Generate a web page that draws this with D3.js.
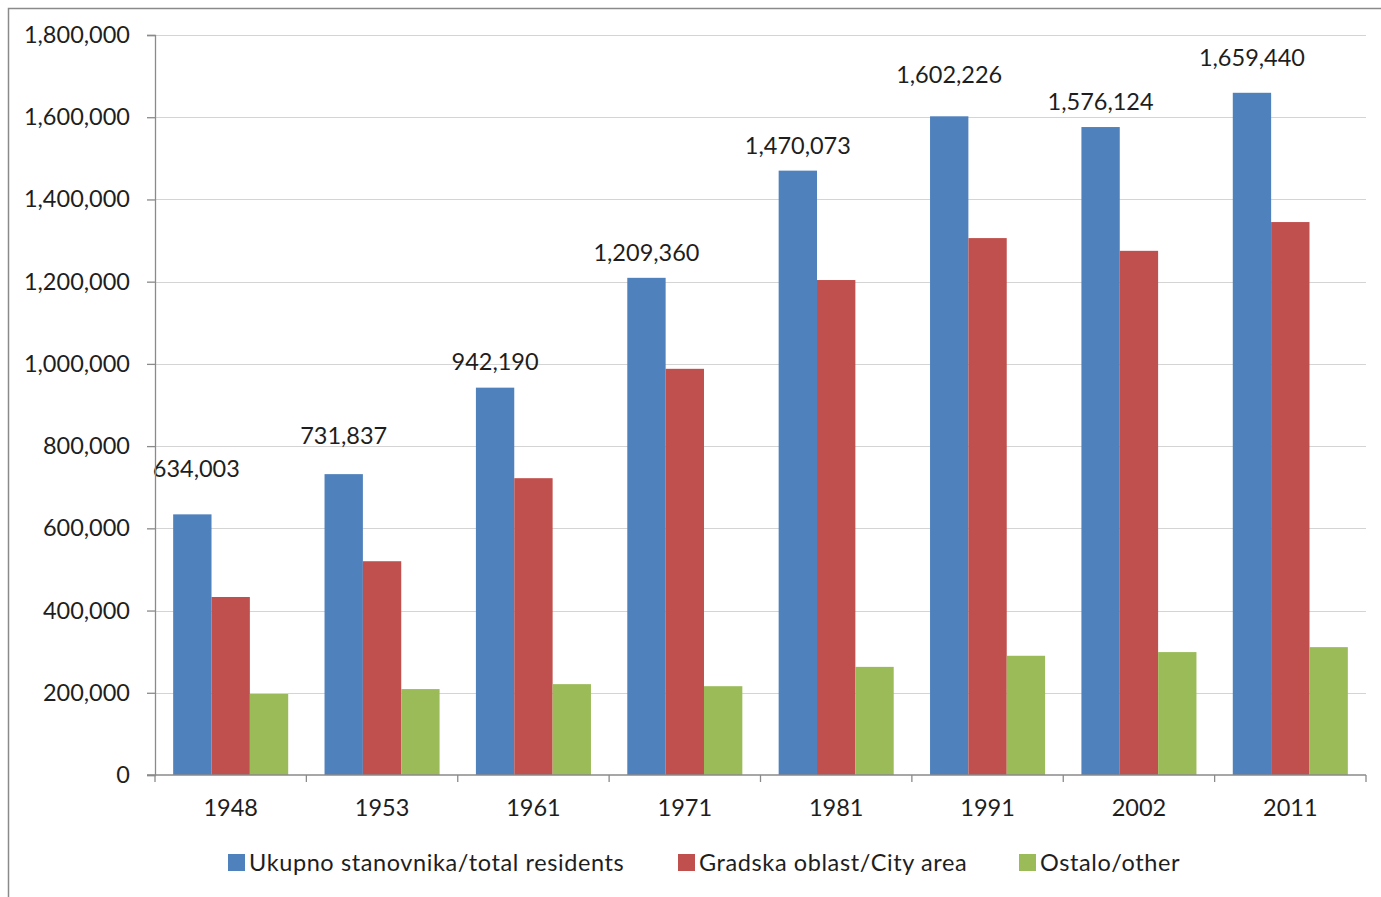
<!DOCTYPE html>
<html>
<head>
<meta charset="utf-8">
<script src="https://cdn.jsdelivr.net/npm/d3@7"></script>
<style>
  html, body { margin: 0; padding: 0; background: #fff; }
  svg { display: block; }
  text { font-family: Lato, "Open Sans", sans-serif; fill: #1e1e1e; }
</style>
</head>
<body>
<svg id="chart" width="1381" height="897"></svg>
<script>
// Census years and population series (Belgrade)
const years = ["1948", "1953", "1961", "1971", "1981", "1991", "2002", "2011"];
const totalResidents = [634003, 731837, 942190, 1209360, 1470073, 1602226, 1576124, 1659440];
const cityArea = [433000, 520000, 722000, 988000, 1204000, 1306000, 1275000, 1345000];
const otherArea = [197000, 209000, 221000, 216000, 263000, 290000, 299000, 311000];
const seriesNames = ["Ukupno stanovnika/total residents", "Gradska oblast/City area", "Ostalo/other"];
const yTicks = [0, 200000, 400000, 600000, 800000, 1000000, 1200000, 1400000, 1600000, 1800000];

// label placement tweaks (pixels above the bar top, horizontal shift)
const labelLift = [37, 30, 18, 17, 17, 33, 17, 27];
const labelShift = [4, 0, 0, 0, 0, 0, 0, 0];

const colors = ["#4F81BD", "#C0504D", "#9BBB59"];
const series = [totalResidents, cityArea, otherArea];
const fontSize = 23.5;

const svg = d3.select("#chart");
const plotLeft = 155, plotRight = 1366, plotTop = 35, plotBottom = 775;

// outer frame
svg.append("path")
  .attr("d", `M8.5,897 V8.5 H1381`)
  .attr("fill", "none").attr("stroke", "#8a8a8a").attr("stroke-width", 1.5);

const x0 = d3.scaleBand().domain(years).range([plotLeft, plotRight]).paddingInner(0.24).paddingOuter(0.12);
const x1 = d3.scaleBand().domain(d3.range(series.length)).range([0, x0.bandwidth()]);
const y = d3.scaleLinear().domain([0, 1800000]).range([plotBottom, plotTop]);

// horizontal gridlines
svg.append("g").selectAll("line").data(yTicks.slice(1)).join("line")
  .attr("x1", plotLeft).attr("x2", plotRight)
  .attr("y1", d => Math.round(y(d)) + 0.5).attr("y2", d => Math.round(y(d)) + 0.5)
  .attr("stroke", "#d4d4d4").attr("stroke-width", 1.2);

// bars
const groups = svg.append("g").selectAll("g").data(years).join("g")
  .attr("transform", d => `translate(${x0(d)},0)`);
groups.selectAll("rect")
  .data((d, i) => series.map((s, k) => ({ k, v: s[i] })))
  .join("rect")
  .attr("x", d => x1(d.k))
  .attr("width", x1.bandwidth())
  .attr("y", d => y(d.v))
  .attr("height", d => y(0) - y(d.v))
  .attr("fill", d => colors[d.k]);

// value labels over total bars
svg.append("g").selectAll("text").data(years).join("text")
  .attr("x", (d, i) => x0(d) + x1(0) + x1.bandwidth() / 2 + labelShift[i])
  .attr("y", (d, i) => y(totalResidents[i]) - labelLift[i])
  .attr("text-anchor", "middle")
  .attr("font-size", fontSize)
  .text((d, i) => d3.format(",")(totalResidents[i]));

// y axis
const yAxis = d3.axisLeft(y).tickValues(yTicks).tickFormat(d3.format(",")).tickSize(8).tickPadding(17);
const gy = svg.append("g").attr("transform", `translate(${plotLeft},0)`).call(yAxis);
gy.selectAll("text").attr("font-size", fontSize).style("font-family", "Lato, 'Open Sans', sans-serif").attr("fill", "#1e1e1e");
gy.selectAll("line, path").attr("stroke", "#8a8a8a").attr("stroke-width", 1.3);

// x axis with ticks on category boundaries
const gx = svg.append("g").attr("transform", `translate(0,${plotBottom})`);
gx.append("line").attr("x1", plotLeft - 8).attr("x2", plotRight).attr("y1", 0).attr("y2", 0)
  .attr("stroke", "#8a8a8a").attr("stroke-width", 1.3);
const step = x0.step();
gx.selectAll("line.tick").data(d3.range(years.length + 1)).join("line")
  .attr("class", "tick")
  .attr("x1", i => plotLeft + i * step).attr("x2", i => plotLeft + i * step)
  .attr("y1", 0).attr("y2", 7)
  .attr("stroke", "#8a8a8a").attr("stroke-width", 1.3);
gx.selectAll("text").data(years).join("text")
  .attr("x", d => x0(d) + x0.bandwidth() / 2)
  .attr("y", 41)
  .attr("text-anchor", "middle")
  .attr("font-size", fontSize)
  .text(d => d);

// legend
const legendX = [228, 678, 1019];
const lg = svg.append("g").selectAll("g").data(seriesNames).join("g")
  .attr("transform", (d, i) => `translate(${legendX[i]},854)`);
lg.append("rect").attr("width", 17).attr("height", 17).attr("fill", (d, i) => colors[i]);
lg.append("text").attr("x", 21).attr("y", 16.5).attr("font-size", fontSize)
  .attr("letter-spacing", 0.6).text(d => d);
</script>
</body>
</html>
